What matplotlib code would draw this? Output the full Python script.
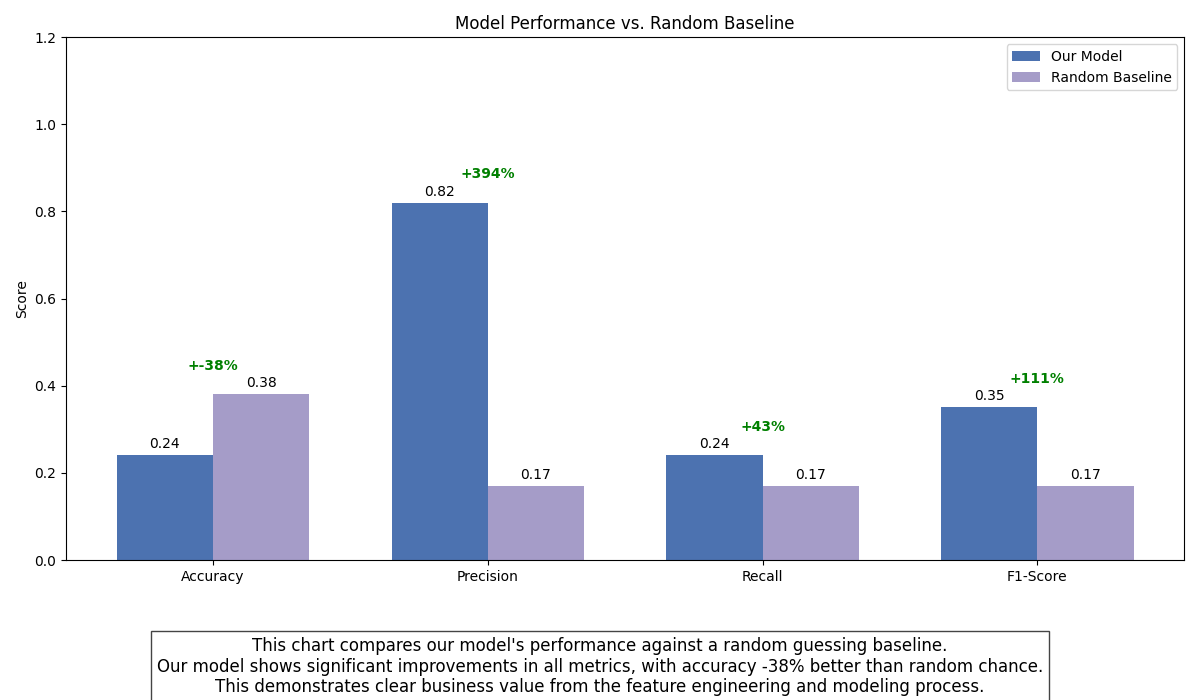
import numpy as np
import matplotlib.pyplot as plt

metrics = ['Accuracy', 'Precision', 'Recall', 'F1-Score']
model_scores = [0.24, 0.82, 0.24, 0.35]
baseline_scores = [0.38, 0.17, 0.17, 0.17]
improvements = [-38, 394, 43, 111]

x = np.arange(len(metrics))
width = 0.35

fig, ax = plt.subplots(figsize=(12, 7), dpi=100)
fig.subplots_adjust(left=0.055, right=0.987, top=0.947, bottom=0.2)

b1 = ax.bar(x - width / 2, model_scores, width, label='Our Model', color='#4c72b0')
b2 = ax.bar(x + width / 2, baseline_scores, width, label='Random Baseline', color='#a59cc8')

for bars in (b1, b2):
    for bar in bars:
        h = bar.get_height()
        ax.annotate(f'{h:.2f}', xy=(bar.get_x() + bar.get_width() / 2, h),
                    xytext=(0, 3), textcoords='offset points', ha='center', va='bottom')

for i, imp in enumerate(improvements):
    top = max(model_scores[i], baseline_scores[i])
    ax.text(x[i], top + 0.05, f'+{imp}%', ha='center', va='bottom',
            color='green', fontweight='bold')

ax.set_ylabel('Score')
ax.set_title('Model Performance vs. Random Baseline')
ax.set_xticks(x)
ax.set_xticklabels(metrics)
ax.set_ylim(0, 1.2)
ax.legend(loc='upper right')

fig.text(0.5, 0.005,
         "This chart compares our model's performance against a random guessing baseline.\n"
         "Our model shows significant improvements in all metrics, with accuracy -38% better than random chance.\n"
         "This demonstrates clear business value from the feature engineering and modeling process.",
         ha='center', va='bottom', fontsize=12,
         bbox=dict(facecolor='white', edgecolor='#444444', pad=4))

plt.savefig('out.png')
